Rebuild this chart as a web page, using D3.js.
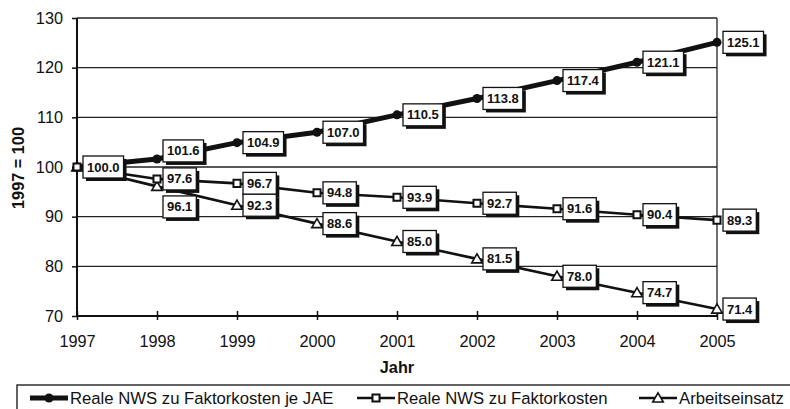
<!DOCTYPE html>
<html>
<head>
<meta charset="utf-8">
<script src="https://cdn.jsdelivr.net/npm/d3@7/dist/d3.min.js"></script>
<style>
  html, body { margin: 0; padding: 0; background: #fff; }
  svg { display: block; font-family: "Liberation Sans", Arial, Helvetica, sans-serif; }
</style>
</head>
<body>
<svg id="chart" width="790" height="409"></svg>
<script>
// Index values, 1997 = 100
const years = [1997, 1998, 1999, 2000, 2001, 2002, 2003, 2004, 2005];
const nwsJeJae = [100.0, 101.6, 104.9, 107.0, 110.5, 113.8, 117.4, 121.1, 125.1];
const nws = [100.0, 97.6, 96.7, 94.8, 93.9, 92.7, 91.6, 90.4, 89.3];
const arbeitseinsatz = [100.0, 96.1, 92.3, 88.6, 85.0, 81.5, 78.0, 74.7, 71.4];
const yTicks = [70, 80, 90, 100, 110, 120, 130];
const seriesNames = ["Reale NWS zu Faktorkosten je JAE", "Reale NWS zu Faktorkosten", "Arbeitseinsatz"];

const svg = d3.select("#chart");
const pLeft = 77, pRight = 717, pTop = 18, pBottom = 316;

const x = d3.scaleLinear().domain([1997, 2005]).range([pLeft, pRight]);
const y = d3.scaleLinear().domain([70, 130]).range([pBottom, pTop]);

// Horizontal gridlines
svg.append("g").selectAll("line").data(yTicks.slice(1)).join("line")
  .attr("x1", pLeft).attr("x2", pRight)
  .attr("y1", d => y(d)).attr("y2", d => y(d))
  .attr("stroke", "#222").attr("stroke-width", 1.3);

// Right frame
svg.append("line").attr("x1", pRight).attr("x2", pRight).attr("y1", pTop).attr("y2", pBottom)
  .attr("stroke", "#222").attr("stroke-width", 1.3);

// Y axis
const yAxis = svg.append("g").attr("transform", `translate(${pLeft},0)`)
  .call(d3.axisLeft(y).tickValues(yTicks).tickSize(5).tickPadding(9).tickFormat(d3.format("d")));
yAxis.select(".domain").attr("stroke", "#111").attr("stroke-width", 2).attr("d", `M0,${pTop}V${pBottom}`);
yAxis.selectAll(".tick line").attr("stroke", "#111").attr("stroke-width", 1.5);
yAxis.selectAll(".tick text").attr("font-size", 16.3).attr("fill", "#111")
  .attr("font-family", "'Liberation Sans', Arial, sans-serif");

// X axis with crossing ticks
const xAxis = svg.append("g").attr("transform", `translate(0,${pBottom})`)
  .call(d3.axisBottom(x).tickValues(years).tickSize(4).tickPadding(15).tickFormat(d3.format("d")));
xAxis.select(".domain").attr("stroke", "#111").attr("stroke-width", 2).attr("d", `M${pLeft},0H${pRight}`);
xAxis.selectAll(".tick line").attr("stroke", "#111").attr("stroke-width", 1.5).attr("y1", -5);
xAxis.selectAll(".tick text").attr("font-size", 16.3).attr("fill", "#111")
  .attr("font-family", "'Liberation Sans', Arial, sans-serif");

// Axis titles
svg.append("text").attr("x", (pLeft + pRight) / 2).attr("y", 373)
  .attr("text-anchor", "middle").attr("font-size", 16.3).attr("font-weight", "bold").attr("fill", "#111")
  .text("Jahr");
svg.append("text").attr("transform", `translate(24,${(pTop + pBottom) / 2 + 1}) rotate(-90)`)
  .attr("text-anchor", "middle").attr("font-size", 16.3).attr("font-weight", "bold").attr("fill", "#111")
  .text("1997 = 100");

// Series lines
const line = d3.line().x((d, i) => x(years[i])).y(d => y(d));
const seriesData = [nwsJeJae, nws, arbeitseinsatz];
const strokeW = [5, 2.6, 2.6];

// thinner series first, thick series on top
[2, 1, 0].forEach(s => {
  svg.append("path").datum(seriesData[s]).attr("d", line)
    .attr("fill", "none").attr("stroke", "#111").attr("stroke-width", strokeW[s])
    .attr("stroke-linejoin", "round");
});

const sym = [d3.symbolCircle, d3.symbolSquare, d3.symbolTriangle];
function marker(g, s, cx, cy) {
  if (s === 0) {
    g.append("circle").attr("cx", cx).attr("cy", cy).attr("r", 4.5).attr("fill", "#111");
  } else if (s === 1) {
    g.append("path").attr("d", d3.symbol(sym[1], 50)())
      .attr("transform", `translate(${cx},${cy})`)
      .attr("fill", "#fff").attr("stroke", "#111").attr("stroke-width", 2);
  } else {
    g.append("path").attr("d", d3.symbol(sym[2], 48)())
      .attr("transform", `translate(${cx},${cy + 1})`)
      .attr("fill", "#fff").attr("stroke", "#111").attr("stroke-width", 1.6);
  }
}
// circles first, squares last so the square shows where all three meet
const markers = svg.append("g");
[0, 2, 1].forEach(s => {
  seriesData[s].forEach((v, i) => marker(markers, s, x(years[i]), y(v)));
});

// Value labels: white boxes with drop shadow, right of each point
const boxH = 22;
const labels = [];
years.forEach((yr, i) => {
  const c1 = y(nwsJeJae[i]);
  const c2 = y(nws[i]);
  const c3 = y(arbeitseinsatz[i]);
  if (i === 0) {
    labels.push({ v: nwsJeJae[i], i, cy: c1 });
    return;
  }
  let cy1 = c1, cy3 = c3;
  // keep neighbouring boxes apart
  if (cy1 + boxH / 2 > c2 - boxH / 2 - 2) cy1 = c2 - boxH - 6;
  if (cy3 - boxH / 2 < c2 + boxH / 2 - 2) cy3 = c2 + boxH + 6;
  labels.push({ v: nwsJeJae[i], i, cy: cy1 });
  labels.push({ v: nws[i], i, cy: c2 });
  labels.push({ v: arbeitseinsatz[i], i, cy: cy3 });
});

const lg = svg.append("g");
labels.forEach(d => {
  const g = lg.append("g").attr("transform", `translate(${x(years[d.i]) + 6},${d.cy - boxH / 2})`);
  const t = g.append("text").attr("x", 4).attr("y", boxH / 2 + 4.5)
    .attr("font-size", 13).attr("font-weight", "bold").attr("fill", "#111")
    .text(d3.format(".1f")(d.v));
  const w = t.node().getComputedTextLength() + 8;
  g.insert("rect", "text").attr("x", 3).attr("y", 3).attr("width", w).attr("height", boxH).attr("fill", "#111");
  g.insert("rect", "text").attr("x", 0).attr("y", 0).attr("width", w).attr("height", boxH)
    .attr("fill", "#fff").attr("stroke", "#111").attr("stroke-width", 1.3);
});

// Legend
svg.append("rect").attr("x", 17).attr("y", 385).attr("width", 800).attr("height", 40)
  .attr("fill", "#fff").attr("stroke", "#111").attr("stroke-width", 1.3);
const legX = [30, 357, 639];
seriesNames.forEach((name, s) => {
  const lx = legX[s], ly = 398;
  svg.append("line").attr("x1", lx).attr("x2", lx + 38).attr("y1", ly).attr("y2", ly)
    .attr("stroke", "#111").attr("stroke-width", s === 0 ? 5 : 2.6);
  marker(svg, s, lx + 19, ly);
  svg.append("text").attr("x", lx + 40).attr("y", ly + 6)
    .attr("font-size", 16.7).attr("fill", "#111").text(name);
});
</script>
</body>
</html>
